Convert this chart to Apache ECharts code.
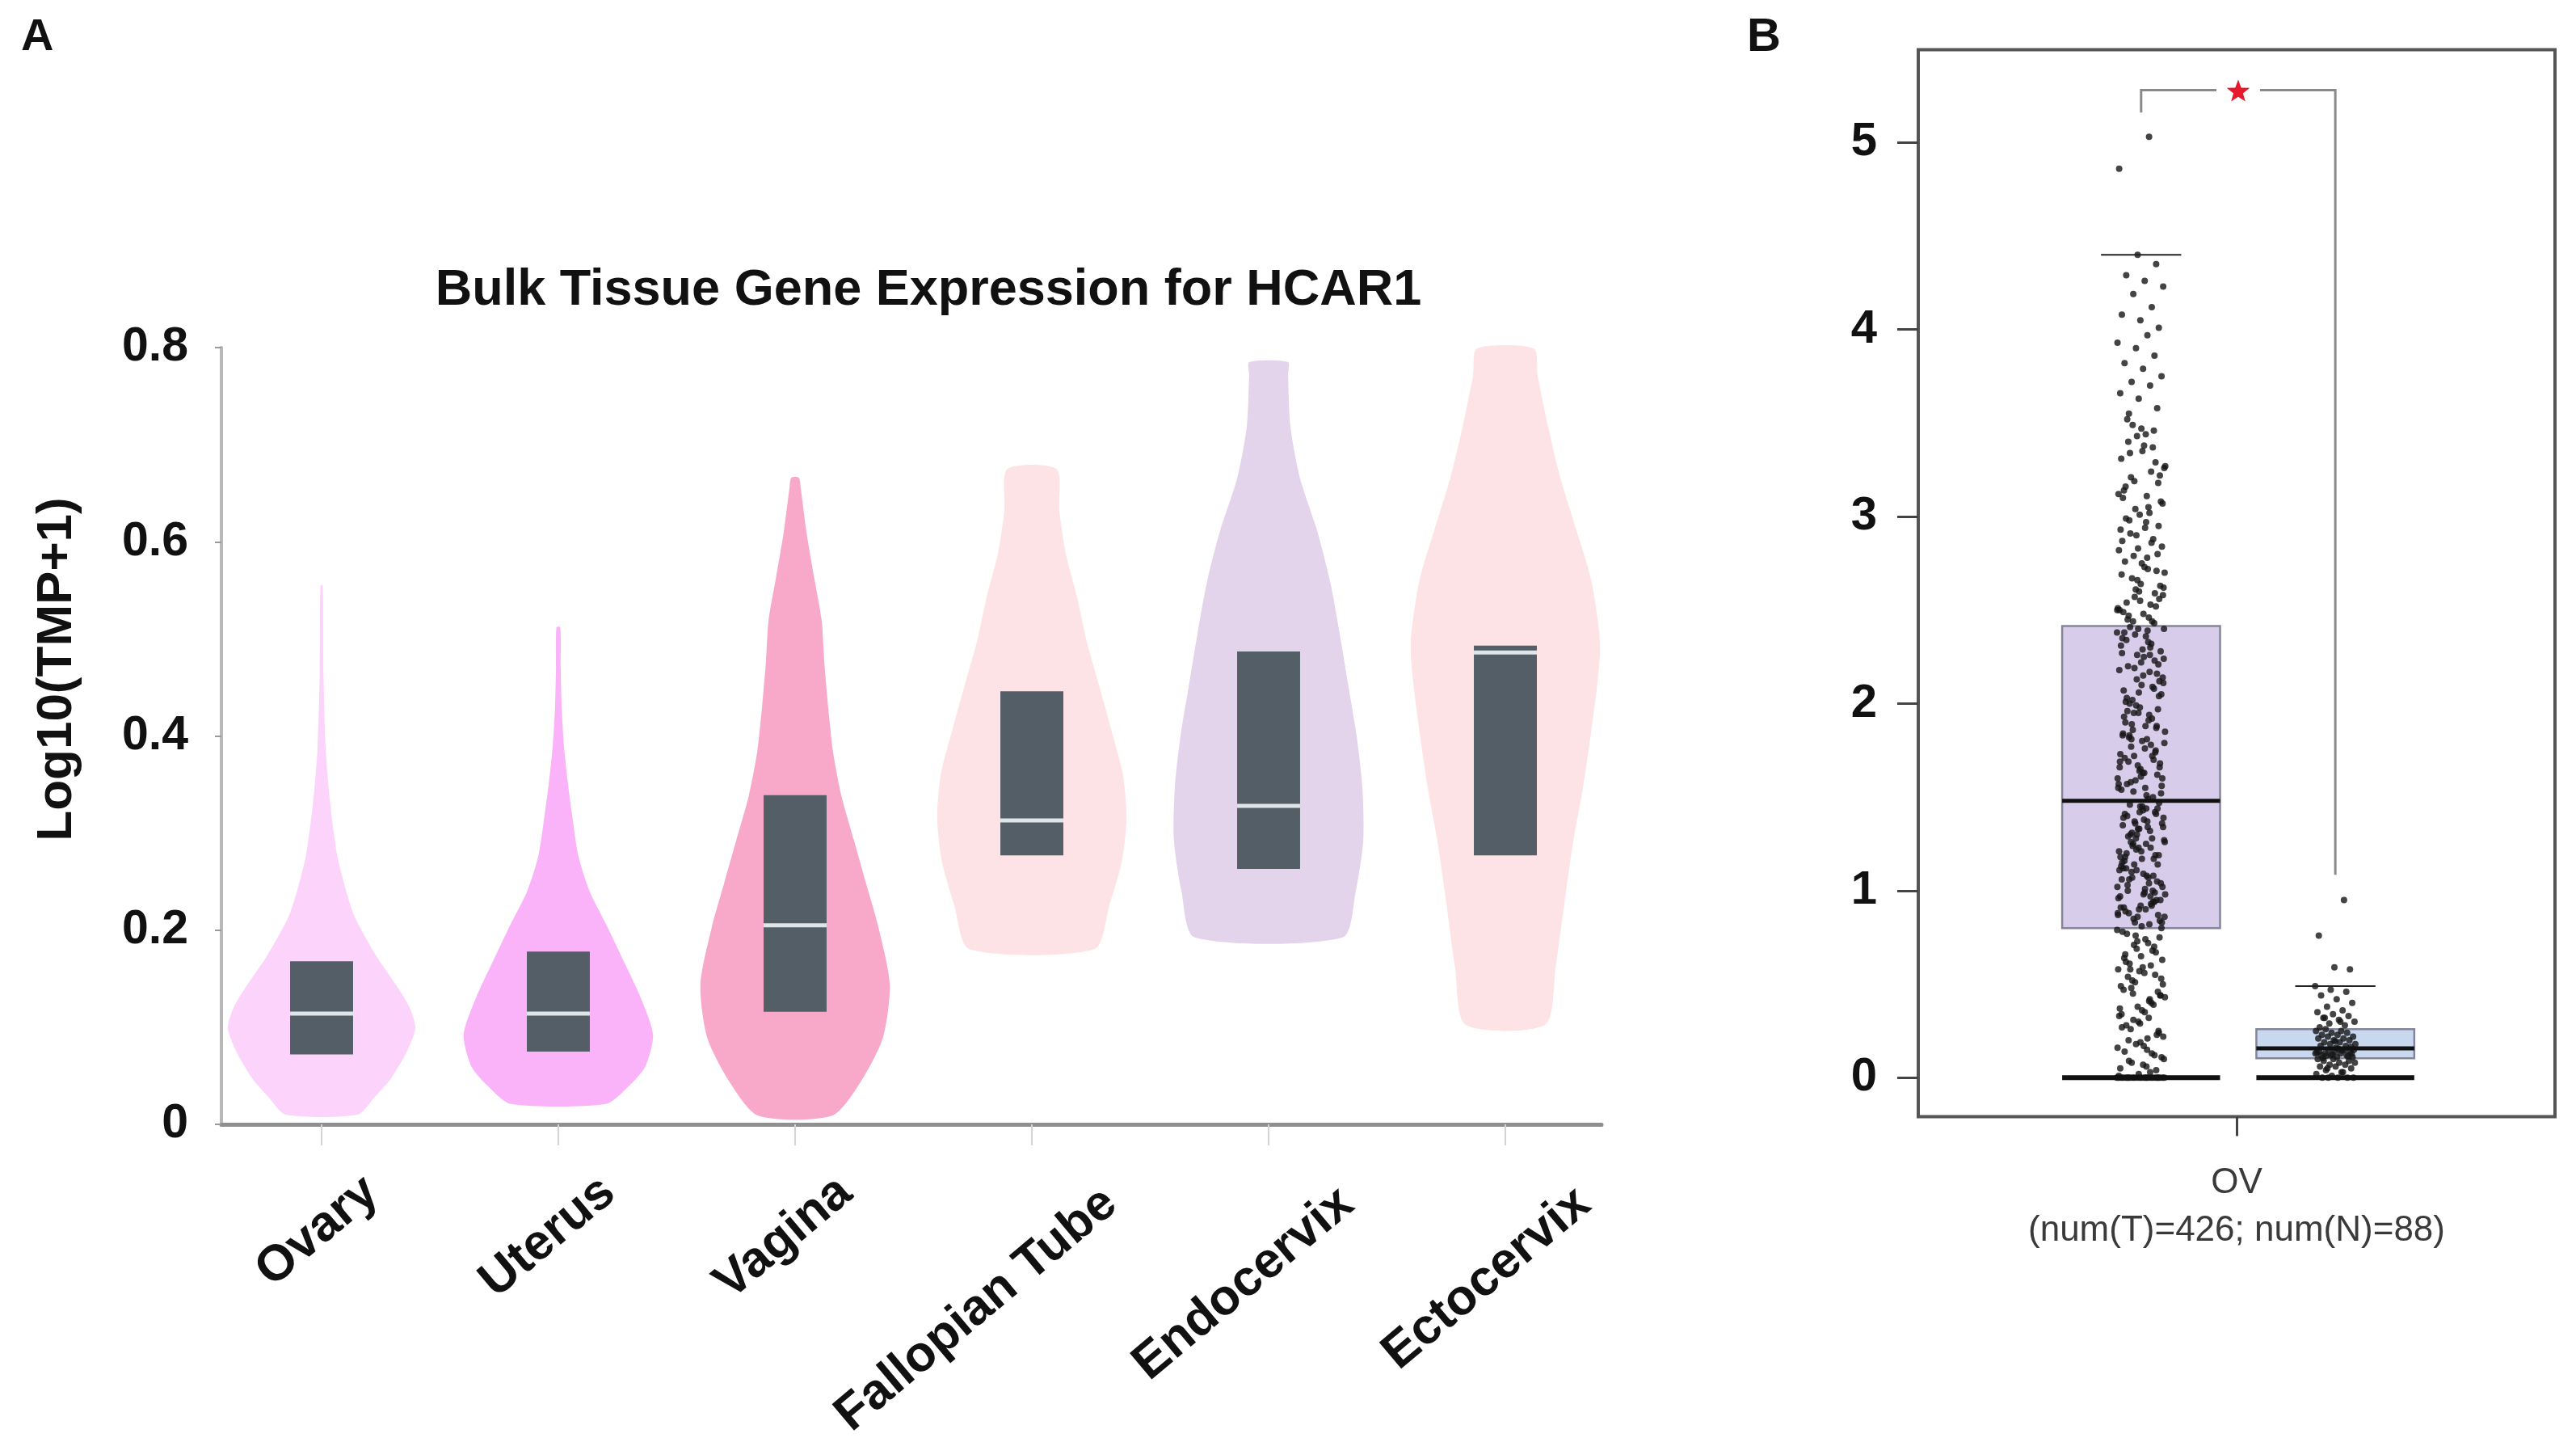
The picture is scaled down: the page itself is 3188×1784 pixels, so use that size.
<!DOCTYPE html>
<html><head><meta charset="utf-8">
<script src="https://cdn.jsdelivr.net/npm/echarts@6.0.0/dist/echarts.min.js"></script>
<style>html,body{margin:0;padding:0;background:#fff;}#main{width:3188px;height:1784px;}</style>
</head><body><div id="main"></div>
<script>
// ---------------- Panel A data ----------------
const tissues = ['Ovary', 'Uterus', 'Vagina', 'Fallopian Tube', 'Endocervix', 'Ectocervix'];
const yTicksA = [0, 0.2, 0.4, 0.6, 0.8];
// box stats: [q1, median, q3]
const ovaryBox = [0.072, 0.114, 0.168];
const uterusBox = [0.075, 0.114, 0.178];
const vaginaBox = [0.116, 0.205, 0.339];
const fallopianBox = [0.277, 0.313, 0.446];
const endocervixBox = [0.263, 0.328, 0.487];
const ectocervixBox = [0.277, 0.486, 0.493];
// violin outlines: [value, relative density]
const ovaryViolin = [[0.01,0.38],[0.028,0.56],[0.047,0.73],[0.075,0.9],[0.099,0.99],[0.12,0.93],[0.14,0.81],[0.173,0.58],[0.2125,0.355],[0.24,0.26],[0.277,0.165],[0.333,0.088],[0.389,0.042],[0.463,0.02],[0.555,0.012]];
const uterusViolin = [[0.021,0.5],[0.04,0.75],[0.06,0.92],[0.092,1.0],[0.128,0.88],[0.166,0.7],[0.203,0.52],[0.24,0.33],[0.277,0.21],[0.315,0.15],[0.352,0.1],[0.389,0.06],[0.43,0.035],[0.47,0.025],[0.512,0.02]];
const vaginaViolin = [[0.009,0.39],[0.045,0.7],[0.09,0.93],[0.144,1.0],[0.203,0.88],[0.248,0.75],[0.293,0.62],[0.338,0.49],[0.384,0.4],[0.429,0.35],[0.474,0.31],[0.519,0.28],[0.564,0.2],[0.61,0.12],[0.655,0.06],[0.666,0.04]];
const fallopianViolin = [[0.1805,0.66],[0.226,0.82],[0.271,0.95],[0.316,1.0],[0.361,0.96],[0.406,0.84],[0.452,0.71],[0.497,0.58],[0.542,0.48],[0.587,0.36],[0.632,0.29],[0.675,0.26]];
const endocervixViolin = [[0.1925,0.78],[0.24,0.92],[0.293,1.0],[0.347,0.99],[0.4,0.93],[0.453,0.84],[0.506,0.75],[0.559,0.65],[0.612,0.51],[0.666,0.33],[0.719,0.23],[0.772,0.205],[0.785,0.205]];
const ectocervixViolin = [[0.1025,0.42],[0.161,0.53],[0.24,0.64],[0.293,0.72],[0.347,0.82],[0.4,0.9],[0.453,0.97],[0.496,1.0],[0.559,0.91],[0.612,0.75],[0.666,0.58],[0.719,0.45],[0.772,0.34],[0.799,0.3]];

// ---------------- Panel B data ----------------
const groupName = 'OV';
const sampleCounts = [426, 88];      // tumor, normal
const yTicksB = [0, 1, 2, 3, 4, 5];
// [lower whisker, q1, median, q3, upper whisker]
const tumorStats = [0, 0.8, 1.48, 2.415, 4.4];
const normalStats = [0, 0.104, 0.157, 0.26, 0.49];
const tumorValues = [
0,0,0,0,0,0,0,0,0,0,0,0,0,0,0,0,0,0,0,0,0,0,0,0,0,
0.02,0.05,0.03,0.08,0.11,0.07,0.14,0.12,0.18,0.16,0.21,0.09,0.24,0.19,0.27,0.13,0.31,0.22,0.35,0.28,0.04,0.38,0.33,0.41,0.26,0.44,0.36,0.47,0.39,0.51,0.43,0.06,0.54,0.46,0.57,0.49,0.6,0.52,0.63,0.17,0.66,0.55,0.69,0.58,0.72,0.61,0.75,0.65,0.78,0.68,0.71,0.1,0.74,0.77,0.23,0.3,0.37,0.42,0.48,0.53,0.59,0.64,0.7,0.76,0.79,0.15,0.2,0.25,0.29,0.34,0.4,0.45,0.5,0.56,0.62,0.67,0.73,0.01,0.32,0.58,0.44,
0.81,1.12,0.94,1.37,0.86,1.25,1.03,1.44,0.9,1.18,0.97,1.31,0.83,1.09,1.41,0.99,1.22,0.88,1.34,1.06,1.47,0.92,1.15,1.28,0.85,1.39,1.01,1.2,0.95,1.33,1.11,0.82,1.26,1.04,1.45,0.91,1.17,1.36,0.98,1.08,1.29,0.87,1.42,1.13,0.93,1.24,1.02,1.38,0.89,1.19,1.3,0.96,1.07,1.46,0.84,1.21,1.35,1.0,1.14,1.27,0.9,1.4,1.05,1.23,0.97,1.32,1.1,0.8,1.43,1.16,0.94,1.28,1.02,1.37,0.88,1.19,1.45,1.06,0.92,1.25,1.34,0.99,1.12,1.41,0.86,1.21,1.04,1.3,0.95,1.17,1.39,1.08,0.83,1.26,1.44,1.0,1.14,1.33,0.91,1.23,1.07,1.36,0.98,1.18,1.42,1.11,0.87,
1.49,1.83,2.12,1.61,2.35,1.72,1.95,2.24,1.55,2.03,1.88,2.4,1.66,2.17,1.77,1.52,2.29,1.93,2.08,1.59,2.38,1.81,1.69,2.21,1.98,1.54,2.32,1.86,2.14,1.63,2.01,1.75,2.26,1.57,1.91,2.41,1.68,2.1,1.84,1.5,2.19,1.79,2.36,1.96,1.62,2.06,1.73,2.3,1.89,1.56,2.15,1.71,2.23,1.99,1.6,2.39,1.82,2.04,1.65,2.27,1.92,1.53,2.11,1.76,2.34,1.87,1.67,2.18,1.94,1.58,2.28,1.8,2.07,1.7,2.37,1.85,1.51,2.2,1.97,1.64,2.31,1.78,2.02,1.6,2.25,1.9,1.74,2.13,1.55,2.33,2.0,1.66,2.22,1.83,2.09,1.72,2.4,1.88,1.57,2.16,1.95,1.69,2.26,1.81,2.05,1.63,2.38,
2.43,2.61,2.5,2.78,2.47,2.95,2.55,2.69,2.86,2.44,2.58,2.73,2.99,2.52,2.66,2.82,2.46,2.91,2.63,2.75,2.49,2.88,2.57,2.7,2.97,2.45,2.8,2.6,2.93,2.53,2.67,2.84,2.48,2.76,2.59,2.9,2.51,2.72,2.98,2.56,2.64,2.87,2.44,2.79,2.62,2.94,2.54,2.71,2.83,2.5,
3.02,3.21,3.08,3.35,3.14,3.46,3.04,3.27,3.11,3.4,3.18,3.01,3.31,3.24,3.49,3.07,3.38,3.16,3.29,3.43,3.12,3.05,3.34,3.22,3.47,3.1,3.37,3.19,3.26,3.44,
3.52,3.58,3.63,3.66,3.7,3.72,3.75,3.79,3.82,3.86,3.9,3.93,3.97,3.55,
4.01,4.05,4.08,4.12,4.19,4.23,4.26,4.29,4.35,4.4,
4.86,5.03];
const normalValues = [
0,0,0,0,0,
0.01,0.02,0.03,0.04,0.05,0.06,0.06,0.07,0.07,0.08,0.08,0.09,0.09,0.1,0.1,0.03,0.05,
0.11,0.11,0.12,0.12,0.12,0.13,0.13,0.13,0.14,0.14,0.14,0.15,0.15,0.15,0.155,0.105,0.115,0.125,0.135,0.145,0.118,0.128,
0.16,0.17,0.17,0.18,0.18,0.19,0.19,0.2,0.2,0.21,0.21,0.22,0.22,0.23,0.23,0.24,0.24,0.25,0.25,0.26,0.165,0.195,
0.27,0.28,0.29,0.3,0.31,0.32,0.33,0.34,0.35,0.36,0.38,0.4,0.42,0.44,0.46,0.47,0.49,0.3,0.32,0.58,0.59,0.76,0.95];
// significance bracket (y values)
const bracketTop = 5.28;
const bracketLeftEnd = 5.16;
const bracketRightEnd = 1.085;

// ---------------- layout / styles ----------------
const FONT = "'Liberation Sans', Arial, Helvetica, sans-serif";
const violinColors = ['#fcd3fb', '#fab2f9', '#f8a9c9', '#fde3e5', '#e3d4ec', '#fde3e5'];
const labelStyleKey = ['a', 'a', 'a', 'b', 'b', 'b'];
const boxesA = [ovaryBox, uterusBox, vaginaBox, fallopianBox, endocervixBox, ectocervixBox];
const violinsA = [ovaryViolin, uterusViolin, vaginaViolin, fallopianViolin, endocervixViolin, ectocervixViolin];
const groupPos = [0.85, 1.155];
const groupStats = [tumorStats, normalStats];
const groupFill = ['#d7cdea', '#c8d8ef'];

function jitter(i) { return ((i * 0.6180339887) % 1) * 2 - 1; }

function violinItem(params, api) {
  const i = api.value(0);
  const prof = violinsA[i];
  const box = boxesA[i];
  const cx = api.coord([i, 0])[0];
  const band = api.size([1, 0])[0];
  const hw = band * 0.4;
  const right = prof.map(p => [cx + p[1] * hw, api.coord([i, p[0]])[1]]);
  const left = prof.slice().reverse().map(p => [cx - p[1] * hw, api.coord([i, p[0]])[1]]);
  const bw = band * 0.133;
  const yq1 = api.coord([i, box[0]])[1], ymed = api.coord([i, box[1]])[1], yq3 = api.coord([i, box[2]])[1];
  return { type: 'group', children: [
    { type: 'polygon', shape: { points: right.concat(left), smooth: 0.25 }, style: { fill: violinColors[i] } },
    { type: 'rect', shape: { x: cx - bw, y: yq3, width: 2 * bw, height: yq1 - yq3 }, style: { fill: '#545e66' } },
    { type: 'line', shape: { x1: cx - bw, y1: ymed, x2: cx + bw, y2: ymed }, style: { stroke: '#dfe6ea', lineWidth: 5 } }
  ]};
}

function boxBodyItem(params, api) {
  const k = params.dataIndex, s = groupStats[k], p = groupPos[k];
  const x0 = api.coord([p - 0.124, 0])[0], x1 = api.coord([p + 0.124, 0])[0];
  const yq1 = api.coord([p, s[1]])[1], yq3 = api.coord([p, s[3]])[1];
  return { type: 'rect', shape: { x: x0, y: yq3, width: x1 - x0, height: yq1 - yq3 },
    style: { fill: groupFill[k], stroke: '#85859a', lineWidth: 2.5 } };
}

function boxLinesItem(params, api) {
  const k = params.dataIndex, s = groupStats[k], p = groupPos[k];
  const x0 = api.coord([p - 0.124, 0])[0], x1 = api.coord([p + 0.124, 0])[0];
  const c0 = api.coord([p - 0.063, 0])[0], c1 = api.coord([p + 0.063, 0])[0];
  const y = v => api.coord([p, v])[1];
  return { type: 'group', children: [
    { type: 'line', shape: { x1: x0, y1: y(s[2]), x2: x1, y2: y(s[2]) }, style: { stroke: '#111', lineWidth: 5 } },
    { type: 'line', shape: { x1: x0, y1: y(s[0]), x2: x1, y2: y(s[0]) }, style: { stroke: '#111', lineWidth: 6 } },
    { type: 'line', shape: { x1: c0, y1: y(s[4]), x2: c1, y2: y(s[4]) }, style: { stroke: '#222', lineWidth: 2 } }
  ]};
}

function bracketItem(params, api) {
  const xl = api.coord([groupPos[0], 0])[0], xr = api.coord([groupPos[1], 0])[0];
  const xm = (xl + xr) / 2;
  const yt = api.coord([groupPos[0], bracketTop])[1];
  const yl = api.coord([groupPos[0], bracketLeftEnd])[1];
  const yr = api.coord([groupPos[1], bracketRightEnd])[1];
  const gap = 27;
  const star = [];
  for (let j = 0; j < 10; j++) {
    const r = j % 2 === 0 ? 15 : 6.2;
    const a = -Math.PI / 2 + j * Math.PI / 5;
    star.push([xm + r * Math.cos(a), yt + 2 + r * Math.sin(a)]);
  }
  const st = { stroke: '#8a8a8a', lineWidth: 3, fill: null };
  return { type: 'group', children: [
    { type: 'polyline', shape: { points: [[xl, yl], [xl, yt], [xm - gap, yt]] }, style: st },
    { type: 'polyline', shape: { points: [[xm + gap, yt], [xr, yt], [xr, yr]] }, style: st },
    { type: 'polygon', shape: { points: star }, style: { fill: '#e8182c' } }
  ]};
}

const chart = echarts.init(document.getElementById('main'), null, { renderer: 'canvas' });
const gA0 = { left: 251.5, top: 430, width: 1758, height: 961, containLabel: false, outerBoundsMode: 'none' };
const gA1 = { left: 274, top: 430, width: 1708, height: 961, containLabel: false, outerBoundsMode: 'none' };
const gB = { left: 2374, top: 61.5, width: 788, height: 1320, containLabel: false, outerBoundsMode: 'none',
  show: true, borderColor: '#555', borderWidth: 4, backgroundColor: 'transparent' };
const catFont = { fontSize: 62, fontWeight: 'bold', color: '#111', fontFamily: FONT };

const option = {
  animation: false,
  backgroundColor: '#fff',
  textStyle: { fontFamily: FONT },
  grid: [gA0, gA1, gB],
  xAxis: [
    { gridIndex: 0, type: 'category', boundaryGap: true, data: tissues,
      axisLine: { show: false, onZero: false },
      axisTick: { show: true, alignWithLabel: true, length: 26, lineStyle: { color: '#d4d4d4', width: 2 } },
      axisLabel: { interval: 0, rotate: 40, align: 'right', verticalAlign: 'top', margin: 10,
        padding: [60, -23, 0, 0], lineHeight: 62, fontSize: 62, fontWeight: 'bold', color: '#111', fontFamily: FONT,
        formatter: (v, i) => '{' + labelStyleKey[i] + '|' + v + '}',
        rich: {
          a: Object.assign({ lineHeight: 62, padding: [0, 18, 0, 0] }, catFont),
          b: Object.assign({ lineHeight: 128, padding: [0, 0, 0, 0] }, catFont)
        } },
      splitLine: { show: false } },
    { gridIndex: 1, type: 'value', min: 0, max: 1,
      axisLine: { show: true, onZero: false, lineStyle: { color: '#8f8f8f', width: 5 } },
      axisTick: { show: false }, axisLabel: { show: false }, splitLine: { show: false } },
    { gridIndex: 2, type: 'category', data: [groupName + '\n(num(T)=' + sampleCounts[0] + '; num(N)=' + sampleCounts[1] + ')'],
      axisLine: { show: false, onZero: false },
      axisTick: { show: true, alignWithLabel: true, length: 24, lineStyle: { color: '#444', width: 3 } },
      axisLabel: { margin: 53, fontSize: 44, lineHeight: 59, color: '#3a3a3a', fontFamily: FONT },
      splitLine: { show: false } },
    { gridIndex: 2, type: 'value', min: 0.5, max: 1.5, show: false }
  ],
  yAxis: [
    { gridIndex: 0, type: 'value', min: 0, max: 0.8, show: false },
    { gridIndex: 1, type: 'value', min: 0, max: 0.8, interval: 0.2,
      axisLine: { show: true, onZero: false, lineStyle: { color: '#b8b8b8', width: 4 } },
      axisTick: { show: true, length: 8, lineStyle: { color: '#9a9a9a', width: 2 } },
      axisLabel: { margin: 41, fontSize: 59, fontWeight: 'bold', color: '#111', fontFamily: FONT,
        formatter: v => (v === 0 ? '0' : v.toFixed(1)) },
      splitLine: { show: false } },
    { gridIndex: 2, type: 'value', min: -0.208, max: 5.496,
      axisLine: { show: false, onZero: false },
      axisTick: { show: true, length: 26, customValues: yTicksB, lineStyle: { color: '#444', width: 3 } },
      axisLabel: { margin: 51, fontSize: 58, fontWeight: 'bold', color: '#111', fontFamily: FONT, customValues: yTicksB },
      splitLine: { show: false } }
  ],
  graphic: [
    { type: 'text', x: 26, y: 47, style: { text: 'A', font: 'bold 56px ' + FONT, fill: '#111', textVerticalAlign: 'middle' } },
    { type: 'text', x: 2162, y: 47, style: { text: 'B', font: 'bold 58px ' + FONT, fill: '#111', textVerticalAlign: 'middle' } },
    { type: 'text', x: 1149, y: 360, style: { text: 'Bulk Tissue Gene Expression for HCAR1', font: 'bold 63px ' + FONT,
      fill: '#111', textAlign: 'center', textVerticalAlign: 'middle' } },
    { type: 'text', x: 71, y: 828, rotation: Math.PI / 2, style: { text: 'Log10(TMP+1)', font: 'bold 62px ' + FONT,
      fill: '#111', textAlign: 'center', textVerticalAlign: 'middle' } }
  ],
  series: [
    { type: 'custom', xAxisIndex: 0, yAxisIndex: 0, renderItem: violinItem,
      data: tissues.map((t, i) => [i]), encode: { x: 0 }, z: 2 },
    { type: 'custom', xAxisIndex: 3, yAxisIndex: 2, renderItem: boxBodyItem,
      data: groupStats.map((s, k) => [groupPos[k], s[0], s[4]]), encode: { x: 0, y: [1, 2] }, z: 2 },
    { type: 'scatter', xAxisIndex: 3, yAxisIndex: 2, symbol: 'circle', symbolSize: 8,
      itemStyle: { color: '#151515' }, z: 3,
      data: tumorValues.map((v, i) => [groupPos[0] + jitter(i) * 0.038, v]) },
    { type: 'scatter', xAxisIndex: 3, yAxisIndex: 2, symbol: 'circle', symbolSize: 8,
      itemStyle: { color: '#151515' }, z: 3,
      data: normalValues.map((v, i) => [groupPos[1] + jitter(i + 7) * 0.032, v]) },
    { type: 'custom', xAxisIndex: 3, yAxisIndex: 2, renderItem: boxLinesItem,
      data: groupStats.map((s, k) => [groupPos[k], s[0], s[4]]), encode: { x: 0, y: [1, 2] }, z: 4 },
    { type: 'custom', xAxisIndex: 3, yAxisIndex: 2, renderItem: bracketItem,
      data: [[1, bracketTop]], encode: { x: 0, y: 1 }, z: 4 }
  ]
};
chart.setOption(option);
</script>
</body></html>
